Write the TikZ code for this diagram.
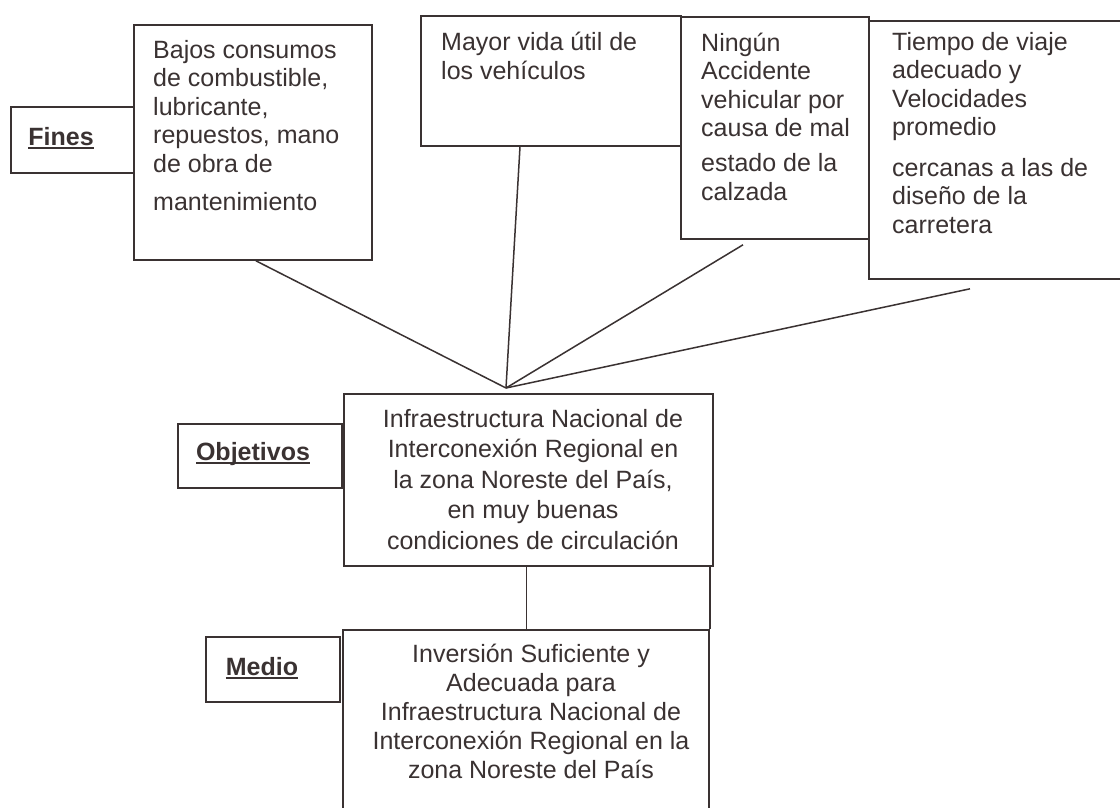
\documentclass[tikz,border=0pt]{standalone}
\usepackage{fontspec}
\setmainfont{Liberation Sans}
\definecolor{ink}{HTML}{3A3232}
\newcommand\ulbl[1]{\setbox0\hbox{#1}\rlap{\color{ink}\rule[-3.5pt]{\wd0}{1.8pt}}\box0}
\begin{document}
\begin{tikzpicture}[x=1pt,y=-1pt,
  box/.style={draw=ink, line width=1.8pt, rectangle, inner sep=0pt, anchor=north west},
  conn/.style={draw=ink, line width=1.5pt},
  txt/.style={inner sep=0pt, anchor=base west, align=left, text=ink},
  ctxt/.style={inner sep=0pt, anchor=base, align=center, text=ink},
  lbl/.style={inner sep=0pt, anchor=base, text=ink, font=\fontsize{25}{30}\selectfont\bfseries}]
\useasboundingbox (0,0) rectangle (1120,807);
\fill[white] (0,0) rectangle (1120,807);

% boxes
\node[box, minimum width=123pt, minimum height=66pt] (fines) at (10,106) {};
\node[box, minimum width=238pt, minimum height=235pt] (b1) at (133,24) {};
\node[box, minimum width=260pt, minimum height=130pt] (b2) at (420,15) {};
\node[box, minimum width=188pt, minimum height=222pt] (b3) at (680,16) {};
\node[box, minimum width=260pt, minimum height=258pt] (b4) at (868,20) {};
\node[box, minimum width=164pt, minimum height=64pt] (objl) at (177,423) {};
\node[box, minimum width=369pt, minimum height=172pt] (obj) at (343,393) {};
\node[box, minimum width=134pt, minimum height=65pt] (medl) at (205,636) {};
\node[box, minimum width=366pt, minimum height=190pt] (med) at (342,629) {};

% labels
\node[lbl] (finest) at (61,145) {\ulbl{Fines}};
\node[lbl] (objt) at (253,460) {\ulbl{Objetivos}};
\node[lbl] (medt) at (262,675) {\ulbl{Medio}};

% texts (anchored at the baseline of their last line)
\node[txt, font=\fontsize{25}{28.5}\selectfont] (t1) at (153,210)
  {Bajos consumos\\de combustible,\\lubricante,\\repuestos, mano\\de obra de\\[9.5pt]mantenimiento};
\node[txt, font=\fontsize{25}{29}\selectfont] (t2) at (441,79)
  {Mayor vida útil de\\los vehículos};
\node[txt, font=\fontsize{25}{28.5}\selectfont] (t3) at (701,200)
  {Ningún\\Accidente\\vehicular por\\causa de mal\\[6.5pt]estado de la\\calzada};
\node[txt, font=\fontsize{25}{28.5}\selectfont] (t4) at (892,233)
  {Tiempo de viaje\\adecuado y\\Velocidades\\promedio\\[12pt]cercanas a las de\\diseño de la\\carretera};
\node[ctxt, font=\fontsize{25}{30.5}\selectfont] (t5) at (533,549)
  {Infraestructura Nacional de\\Interconexión Regional en\\la zona Noreste del País,\\en muy buenas\\condiciones de circulación};
\node[ctxt, font=\fontsize{25}{29}\selectfont] (t6) at (531,778)
  {Inversión Suficiente y\\Adecuada para\\Infraestructura Nacional de\\Interconexión Regional en la\\zona Noreste del País};

% connectors
\coordinate (conv) at (506,388);
\draw[conn] ([xshift=3pt]b1.south) -- (conv);
\draw[conn] ([xshift=100pt]b2.south west) -- (conv);
\draw[conn] ([xshift=63pt,yshift=-5pt]b3.south west) -- (conv);
\draw[conn] ([xshift=102pt,yshift=-9pt]b4.south west) -- (conv);
\draw[conn] ([xshift=-2pt]obj.south) -- ([xshift=-2pt]obj.south |- med.north);
\draw[conn] (med.north east) -- (med.north east |- obj.south);
\end{tikzpicture}
\end{document}
